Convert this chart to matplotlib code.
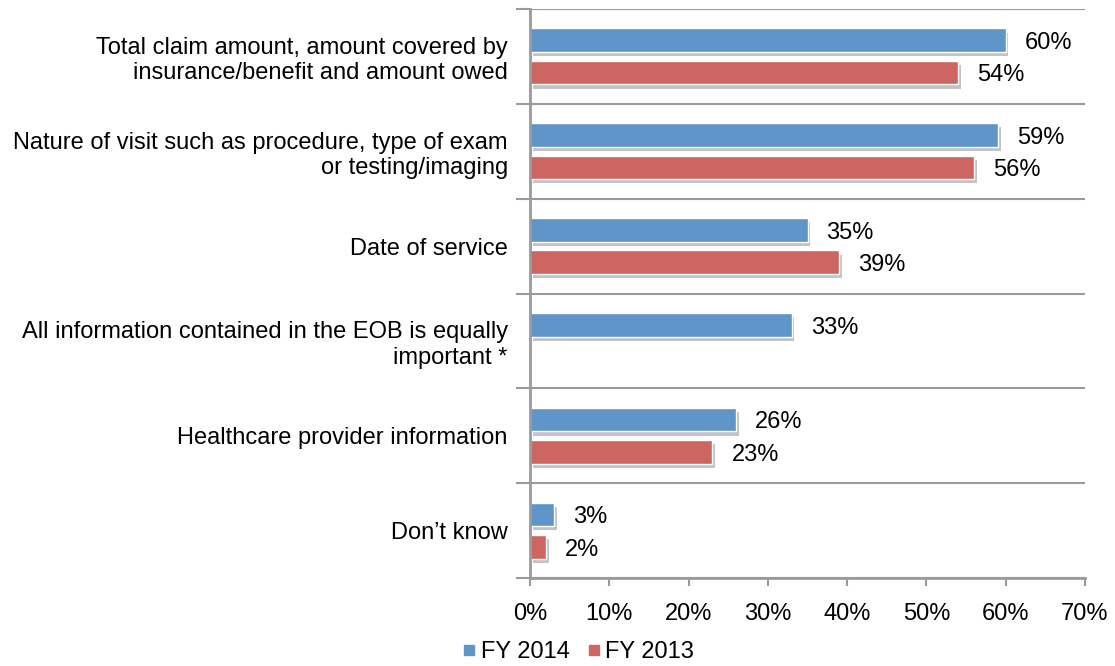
import matplotlib
matplotlib.use("Agg")
import matplotlib.pyplot as plt
import matplotlib.patheffects as pe
from matplotlib.lines import Line2D
import numpy as np

categories = [
    "Total claim amount, amount covered by\ninsurance/benefit and amount owed",
    "Nature of visit such as procedure, type of exam\nor testing/imaging",
    "Date of service",
    "All information contained in the EOB is equally\nimportant *",
    "Healthcare provider information",
    "Don\u2019t know",
]
fy2014 = [60, 59, 35, 33, 26, 3]
fy2013 = [54, 56, 39, None, 23, 2]
series_names = ["FY 2014", "FY 2013"]
xticks = [0, 10, 20, 30, 40, 50, 60, 70]

blue = "#5F95C9"
red = "#CD6661"
gray = "#9A9A9A"

plt.rcParams['font.family'] = ['Liberation Sans', 'DejaVu Sans']
fs = 17

fig = plt.figure(figsize=(11.15, 6.66), dpi=100)
ax = fig.add_axes([530/1115, 1-578/666, 555/1115, (578-9)/666])

n = len(categories)
y = np.arange(n)
h = 0.25
off = 0.17
shadow = [pe.SimplePatchShadow(offset=(2, -3), shadow_rgbFace='#888888', alpha=0.5), pe.Normal()]

for i in range(n):
    for vals, col, sign in ((fy2014, blue, -1), (fy2013, red, 1)):
        v = vals[i]
        if v is None:
            continue
        yc = y[i] + sign * off
        b = ax.barh(yc, v, height=h, color=col, edgecolor='white', linewidth=1.0)
        b[0].set_path_effects(shadow)
        ax.text(v + 2.4, yc + 0.03, f"{v}%", va='center', ha='left', fontsize=fs, color='black')

ax.set_xlim(0, 70)
ax.set_ylim(n - 0.5, -0.5)
ax.set_xticks(xticks)
ax.set_xticklabels([f"{t}%" for t in xticks], fontsize=fs)
ax.set_yticks(np.arange(n + 1) - 0.5, minor=False)
ax.set_yticklabels([])
ax.set_yticks(y, minor=True)
ax.set_yticklabels(categories, minor=True, fontsize=fs, linespacing=1.2)
ax.tick_params(axis='y', which='minor', length=0, pad=16)
ax.tick_params(axis='y', which='major', length=10, color=gray, width=1.5)
ax.tick_params(axis='x', length=6, color=gray, width=1.5, pad=12)
for lab in ax.get_yticklabels(minor=True):
    lab.set_horizontalalignment('right')
ax.grid(axis='y', which='major', color=gray, linewidth=1.5)
ax.set_axisbelow(True)
for s in ['top', 'right']:
    ax.spines[s].set_visible(False)
for s in ['left', 'bottom']:
    ax.spines[s].set_color(gray)
    ax.spines[s].set_linewidth(2)

handles = [Line2D([], [], marker='s', linestyle='none', markersize=7.5, color=blue),
           Line2D([], [], marker='s', linestyle='none', markersize=7.5, color=red)]
fig.legend(handles, series_names, loc='center', bbox_to_anchor=(577/1115, 14/666), ncol=2,
           frameon=False, fontsize=fs, handletextpad=0.1, columnspacing=0.6, handlelength=0.8)

fig.savefig("out.png", dpi=100)
